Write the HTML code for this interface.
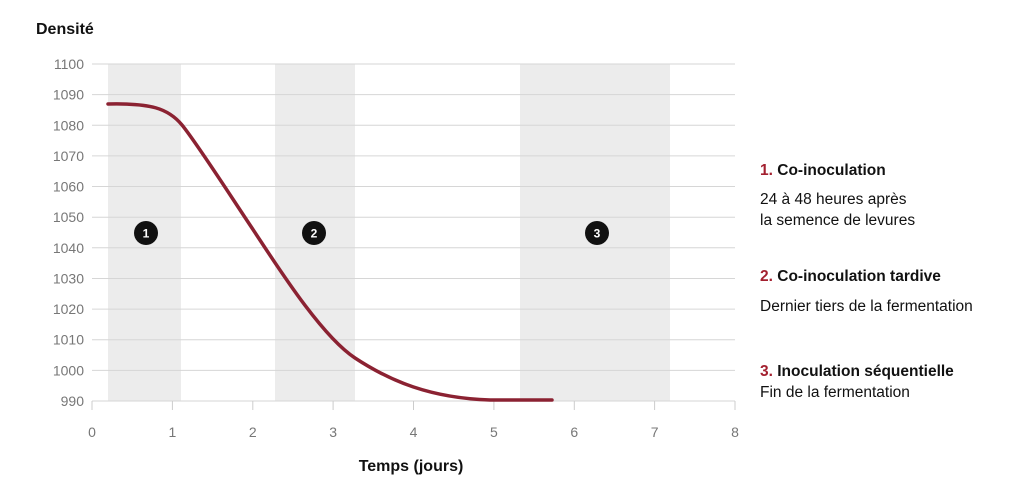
<!DOCTYPE html>
<html><head><meta charset="utf-8"><style>
body{margin:0;background:#fff;}
svg text{font-family:"Liberation Sans",sans-serif;}
</style></head><body>
<svg width="1024" height="490" xmlns="http://www.w3.org/2000/svg">
<rect x="108" y="64" width="73" height="337" fill="#ececec"/>
<rect x="275" y="64" width="80" height="337" fill="#ececec"/>
<rect x="520" y="64" width="150" height="337" fill="#ececec"/>
<g stroke="#d6d6d6" stroke-width="1">
<line x1="92" x2="735" y1="64" y2="64"/><line x1="92" x2="735" y1="94.6" y2="94.6"/>
<line x1="92" x2="735" y1="125.3" y2="125.3"/><line x1="92" x2="735" y1="155.9" y2="155.9"/>
<line x1="92" x2="735" y1="186.5" y2="186.5"/><line x1="92" x2="735" y1="217.2" y2="217.2"/>
<line x1="92" x2="735" y1="247.8" y2="247.8"/><line x1="92" x2="735" y1="278.5" y2="278.5"/>
<line x1="92" x2="735" y1="309.1" y2="309.1"/><line x1="92" x2="735" y1="339.7" y2="339.7"/>
<line x1="92" x2="735" y1="370.4" y2="370.4"/><line x1="92" x2="735" y1="401" y2="401"/>
</g>
<g stroke="#ccc"><line x1="92" x2="92" y1="401" y2="410"/><line x1="172.4" x2="172.4" y1="401" y2="410"/><line x1="252.8" x2="252.8" y1="401" y2="410"/><line x1="333.1" x2="333.1" y1="401" y2="410"/><line x1="413.5" x2="413.5" y1="401" y2="410"/><line x1="493.9" x2="493.9" y1="401" y2="410"/><line x1="574.3" x2="574.3" y1="401" y2="410"/><line x1="654.6" x2="654.6" y1="401" y2="410"/><line x1="735" x2="735" y1="401" y2="410"/></g>
<g fill="#777" font-size="14" text-anchor="end">
<text x="84" y="69">1100</text><text x="84" y="99.6">1090</text><text x="84" y="130.3">1080</text><text x="84" y="160.9">1070</text><text x="84" y="191.5">1060</text><text x="84" y="222.2">1050</text><text x="84" y="252.8">1040</text><text x="84" y="283.5">1030</text><text x="84" y="314.1">1020</text><text x="84" y="344.7">1010</text><text x="84" y="375.4">1000</text><text x="84" y="406">990</text>
</g>
<g fill="#777" font-size="14" text-anchor="middle">
<text x="92" y="437">0</text><text x="172.4" y="437">1</text><text x="252.8" y="437">2</text><text x="333.1" y="437">3</text><text x="413.5" y="437">4</text><text x="493.9" y="437">5</text><text x="574.3" y="437">6</text><text x="654.6" y="437">7</text><text x="735" y="437">8</text>
</g>
<path d="M108,104 C150,103 168,108 182,125 S230,195 252,228 S320,335 355,358 S430,398 490,400 L552,400" fill="none" stroke="#8b2232" stroke-width="3.5" stroke-linecap="round"/>
<g font-size="12" font-weight="bold" text-anchor="middle">
<circle cx="146" cy="233" r="12" fill="#111"/><text x="146" y="237.5" fill="#fff">1</text>
<circle cx="314" cy="233" r="12" fill="#111"/><text x="314" y="237.5" fill="#fff">2</text>
<circle cx="597" cy="233" r="12" fill="#111"/><text x="597" y="237.5" fill="#fff">3</text>
</g>
<text x="36" y="34" font-size="16" font-weight="bold" fill="#111">Densité</text>
<text x="411" y="471" font-size="16" font-weight="bold" fill="#111" text-anchor="middle">Temps (jours)</text>
<g font-size="15.5" fill="#111">
<text x="760" y="175" font-weight="bold"><tspan fill="#a3202f">1.</tspan> Co-inoculation</text>
<text x="760" y="204">24 à 48 heures après</text>
<text x="760" y="225">la semence de levures</text>
<text x="760" y="281" font-weight="bold"><tspan fill="#a3202f">2.</tspan> Co-inoculation tardive</text>
<text x="760" y="311">Dernier tiers de la fermentation</text>
<text x="760" y="376" font-weight="bold"><tspan fill="#a3202f">3.</tspan> Inoculation séquentielle</text>
<text x="760" y="397">Fin de la fermentation</text>
</g>
</svg>
</body></html>
